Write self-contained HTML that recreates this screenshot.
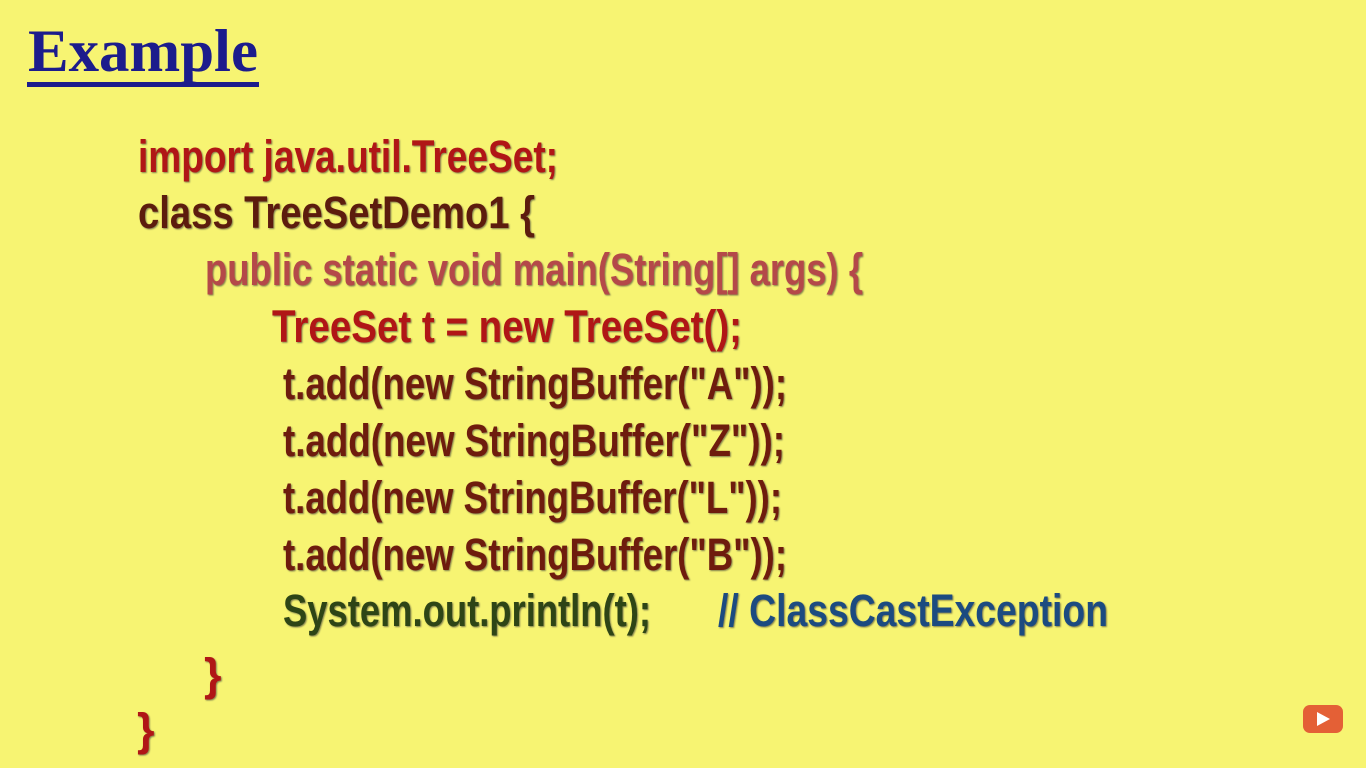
<!DOCTYPE html>
<html><head><meta charset="utf-8"><style>
html,body{margin:0;padding:0;background:#f7f472;}
svg{display:block}
text{font-family:"Liberation Sans",Arial,sans-serif;font-weight:bold;font-size:45px;}
</style></head><body>
<svg width="1366" height="768" viewBox="0 0 1366 768">
<defs><filter id="s" x="-5%" y="-20%" width="110%" height="140%"><feDropShadow dx="1" dy="1" stdDeviation="0.8" flood-color="#333" flood-opacity="0.6"/></filter></defs>
<rect width="1366" height="768" fill="#f7f472"/>
<text x="28" y="71" textLength="230" lengthAdjust="spacingAndGlyphs" style="font-family:'Liberation Serif',serif;font-size:60px" fill="#1c1c8c">Example</text>
<rect x="27" y="82" width="232" height="5" fill="#1c1c8c"/>
<g filter="url(#s)">
<text x="138" y="172" textLength="420" lengthAdjust="spacingAndGlyphs" fill="#b01212">import java.util.TreeSet;</text>
<text x="138" y="228" textLength="397" lengthAdjust="spacingAndGlyphs" fill="#5c1a0e">class TreeSetDemo1 {</text>
<text x="205" y="285" textLength="658" lengthAdjust="spacingAndGlyphs" fill="#b44848">public static void main(String[] args) {</text>
<text x="272" y="342" textLength="470" lengthAdjust="spacingAndGlyphs" fill="#b01212">TreeSet t = new TreeSet();</text>
<text x="283" y="399" textLength="504" lengthAdjust="spacingAndGlyphs" fill="#6e1a10">t.add(new StringBuffer("A"));</text>
<text x="283" y="456" textLength="502" lengthAdjust="spacingAndGlyphs" fill="#6e1a10">t.add(new StringBuffer("Z"));</text>
<text x="283" y="513" textLength="499" lengthAdjust="spacingAndGlyphs" fill="#6e1a10">t.add(new StringBuffer("L"));</text>
<text x="283" y="570" textLength="504" lengthAdjust="spacingAndGlyphs" fill="#6e1a10">t.add(new StringBuffer("B"));</text>
<text x="283" y="626" textLength="368" lengthAdjust="spacingAndGlyphs" fill="#2e4412">System.out.println(t);</text>
<text x="718" y="626" textLength="390" lengthAdjust="spacingAndGlyphs" fill="#1c4c80">// ClassCastException</text>
<text x="204" y="690" fill="#b01212">}</text>
<text x="137" y="745" fill="#b01212">}</text>
</g>
<rect x="1303" y="705" width="40" height="28" rx="7" fill="#e0452c" opacity="0.85"/>
<polygon points="1317,712 1317,726 1330,719" fill="#fff"/>
</svg>
</body></html>
